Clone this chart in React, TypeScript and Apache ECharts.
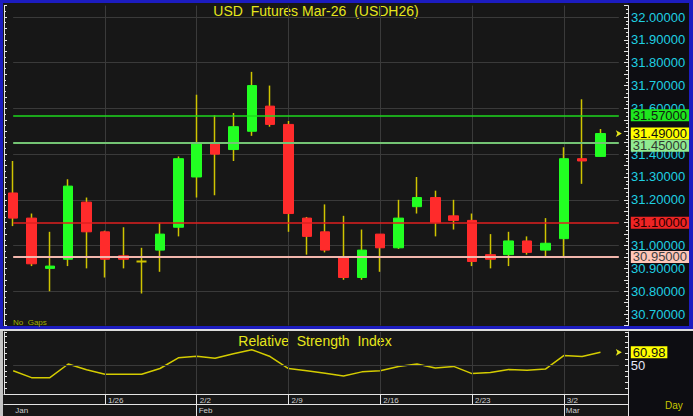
import React, { useEffect, useRef } from 'react';
import * as echarts from 'echarts';

// ---- data ----
const dates = ['1/19','1/20','1/21','1/22','1/23','1/26','1/27','1/28','1/29','1/30','2/2','2/3','2/4','2/5','2/6','2/9','2/10','2/11','2/12','2/13','2/16','2/17','2/18','2/19','2/20','2/23','2/24','2/25','2/26','2/27','3/2','3/3','3/4'];
const opens = [31.23,31.12,30.90,30.94,31.19,31.06,30.955,30.93,30.98,31.08,31.30,31.45,31.42,31.50,31.61,31.53,31.12,31.06,30.95,30.86,31.05,30.99,31.17,31.21,31.13,31.11,30.96,30.96,31.02,30.98,31.03,31.38,31.39];
const closes = [31.12,30.92,30.91,31.26,31.06,30.94,30.94,30.93,31.05,31.38,31.45,31.40,31.52,31.70,31.53,31.14,31.04,30.98,30.86,30.98,30.99,31.12,31.21,31.10,31.11,30.93,30.94,31.02,30.97,31.01,31.38,31.37,31.49];
const lows = [31.085,30.91,30.80,30.91,30.90,30.86,30.90,30.79,30.885,31.04,31.21,31.22,31.37,31.48,31.52,31.06,30.96,30.97,30.85,30.85,30.885,30.985,31.14,31.04,31.07,30.91,30.90,30.91,30.96,30.95,30.95,31.27,31.39];
const highs = [31.37,31.14,31.06,31.29,31.21,31.065,31.08,30.99,31.10,31.39,31.66,31.57,31.58,31.76,31.70,31.545,31.125,31.18,31.13,31.07,31.05,31.20,31.30,31.24,31.20,31.14,31.05,31.06,31.04,31.12,31.43,31.64,31.51];
const rsi = [45.0,39.1,39.1,50.9,45.9,42.0,42.0,42.0,47.0,56.2,57.6,55.8,59.7,63.2,57.3,47.0,45.0,42.9,40.6,44.1,45.0,48.8,50.9,47.4,48.8,42.6,43.5,46.1,45.6,46.5,58.2,57.3,60.98];
const weekLabels = ['1/26','2/2','2/9','2/16','2/23','3/2'];
const monthNames = ['Jan','Feb','Mar'];
const levels = [31.57, 31.45, 31.10, 30.95];
const lastPrice = 31.49;
const lastRsi = 60.98;
const priceGrid = [30.8, 31.0, 31.2, 31.4, 31.6, 31.8, 32.0];
const priceMin = 30.65;
const priceMax = 32.05;
const priceStep = 0.05;
const rsiMin = 25;
const rsiMax = 78.5;
const rsiStep = 5;
const rsiMid = 50;

// ---- styles ----
const FONT = '"Liberation Sans", Arial, sans-serif';
const AX = '#e4e4e4';
const GRIDC = '#3a3a3a';
const UP = '#22ff22';
const DOWN = '#ff2b2b';
const WICK = '#cfc400';
const YEL = '#e6e61c';
const CLEAR = 'rgba(0,0,0,0)';
const levelLine = ['#1ed81e', '#74c474', '#e02020', '#f2b6ac'];
const levelWidth = [1.5, 2, 1.5, 2];
const levelBox = ['#1ee61e', '#90ea90', '#ee2424', '#ffc6b8'];
const levelText = ['#102010', '#303830', '#2a0000', '#404040'];
const levelShift = [0, 3, 0, 0];

const cats = [...dates, ' '];
const lastIdx = cats.length - 1;
const isWeek = (i: number) => weekLabels.includes(cats[i]);
const monthOf = (d: string) => d.split('/')[0];
const monthStart = cats.map((d, i) => i < dates.length && (i === 0 || monthOf(d) !== monthOf(dates[i - 1])));
const boxedValues = [...levels, lastPrice];

function buildOption(): any {
  const axisLineStyle = { color: AX, width: 1 };
  const boxLabel = (text: string, bg: string, fg: string, dy = 0) => ({
    show: true,
    position: 'end',
    distance: 12,
    offset: [0, dy],
    formatter: text,
    backgroundColor: bg,
    color: fg,
    fontSize: 13,
    fontFamily: FONT,
    padding: [1, 2, 0, 2],
    lineHeight: 11,
  });

  const levelLines: any[] = levels.map((v, i) => [
    {
      coord: [0, v],
      lineStyle: { color: levelLine[i], width: levelWidth[i], type: 'solid' },
      label: boxLabel(v.toFixed(5), levelBox[i], levelText[i], levelShift[i]),
    },
    { coord: [lastIdx, v] },
  ]);
  levelLines.push([
    {
      coord: [0, lastPrice],
      lineStyle: { color: CLEAR, width: 1, type: 'solid' },
      label: boxLabel(lastPrice.toFixed(5), '#ffff00', '#101010'),
    },
    { coord: [lastIdx, lastPrice] },
  ]);

  const gridStyle = { color: GRIDC, type: 'solid', width: 1 };
  const noLabel = { show: false };
  const hPair = (v: number) => [
    { coord: [0, v], lineStyle: gridStyle, label: noLabel },
    { coord: [lastIdx, v] },
  ];
  const vPair = (d: string, lo: number, hi: number) => [
    { coord: [d, lo], lineStyle: gridStyle, label: noLabel },
    { coord: [d, hi] },
  ];

  const bodyData = dates.map((_, i) => {
    const o = opens[i];
    const c = closes[i];
    const item: any = { value: [o, c, Math.min(o, c), Math.max(o, c)] };
    if (o === c) {
      item.itemStyle = { color: WICK, color0: WICK, borderColor: WICK, borderColor0: WICK, borderWidth: 2 };
    }
    return item;
  });

  const priceLabel = (v: number) => {
    if (Math.round(v / priceStep) % 2 !== 0) return '';
    if (boxedValues.some((b) => Math.abs(b - v) < 0.015)) return '';
    return v.toFixed(5);
  };

  return {
    animation: false,
    backgroundColor: 'transparent',
    textStyle: { fontFamily: FONT },
    grid: [
      { left: 4, width: 624, top: 5.6, height: 319.9 },
      { left: 4, width: 624, top: 332, height: 62 },
    ],
    xAxis: [
      {
        type: 'category', gridIndex: 0, data: cats, boundaryGap: true,
        axisLine: { show: false }, axisTick: { show: false }, axisLabel: { show: false }, splitLine: { show: false },
      },
      {
        type: 'category', gridIndex: 1, data: cats, boundaryGap: true, position: 'bottom',
        axisLine: { show: true, lineStyle: axisLineStyle },
        axisTick: { show: true, alignWithLabel: true, interval: (i: number) => isWeek(i), length: 10, lineStyle: axisLineStyle },
        axisLabel: {
          show: true, interval: (i: number) => isWeek(i), align: 'left', padding: [0, 0, 0, 3], margin: 2,
          fontSize: 8, color: '#cfcfcf', fontFamily: FONT,
        },
        splitLine: { show: false },
      },
      {
        type: 'category', gridIndex: 1, data: cats, boundaryGap: true, position: 'bottom', offset: 10,
        axisLine: { show: true, lineStyle: axisLineStyle },
        axisTick: { show: true, alignWithLabel: true, interval: (i: number) => i > 0 && monthStart[i], length: 12, lineStyle: axisLineStyle },
        axisLabel: {
          show: true, interval: (i: number) => monthStart[i], align: 'left', padding: [0, 0, 0, 2], margin: 2,
          fontSize: 8, color: '#cfcfcf', fontFamily: FONT,
          formatter: (v: string) => monthNames[Number(monthOf(v)) - 1] || '',
        },
        splitLine: { show: false },
      },
    ],
    yAxis: [
      {
        type: 'value', gridIndex: 0, position: 'right', min: priceMin, max: priceMax, interval: priceStep,
        axisLine: { show: true, lineStyle: axisLineStyle },
        axisTick: { show: true, inside: true, length: 4, lineStyle: axisLineStyle },
        minorTick: { show: true, splitNumber: 3, length: 2, lineStyle: axisLineStyle },
        axisLabel: { show: true, margin: 3, color: '#1fd0e2', fontSize: 13, fontFamily: FONT, formatter: priceLabel },
        splitLine: { show: false },
      },
      {
        type: 'value', gridIndex: 0, position: 'left', min: priceMin, max: priceMax, interval: priceStep,
        axisLine: { show: true, lineStyle: axisLineStyle },
        axisTick: { show: true, inside: true, length: 3, lineStyle: axisLineStyle },
        minorTick: { show: true, splitNumber: 2, length: 2, lineStyle: axisLineStyle },
        axisLabel: { show: false }, splitLine: { show: false },
      },
      {
        type: 'value', gridIndex: 1, position: 'right', min: rsiMin, max: rsiMax, interval: rsiStep,
        axisLine: { show: true, lineStyle: axisLineStyle },
        axisTick: { show: true, inside: true, length: 3, lineStyle: axisLineStyle },
        axisLabel: { show: false },
        splitLine: { show: false },
      },
      {
        type: 'value', gridIndex: 1, position: 'left', min: rsiMin, max: rsiMax, interval: rsiStep,
        axisLine: { show: true, lineStyle: axisLineStyle },
        axisTick: { show: true, inside: true, length: 3, lineStyle: axisLineStyle },
        axisLabel: { show: false }, splitLine: { show: false },
      },
    ],
    graphic: [
      {
        type: 'text', x: 316, y: 11, silent: true,
        style: { text: 'USD  Futures Mar-26  (USDH26)', fill: YEL, font: `14px ${FONT}`, align: 'center', verticalAlign: 'middle' },
      },
      {
        type: 'text', x: 315, y: 341, silent: true,
        style: { text: 'Relative  Strength  Index', fill: YEL, font: `14px ${FONT}`, align: 'center', verticalAlign: 'middle' },
      },
      {
        type: 'text', x: 13, y: 322, silent: true,
        style: { text: 'No  Gaps', fill: '#a2b000', font: `8px ${FONT}`, align: 'left', verticalAlign: 'middle' },
      },
      {
        type: 'text', x: 665, y: 405, silent: true,
        style: { text: 'Day', fill: '#c8c800', font: `10px ${FONT}`, align: 'left', verticalAlign: 'middle' },
      },
    ],
    series: [
      {
        name: 'wick', type: 'candlestick', xAxisIndex: 0, yAxisIndex: 0, z: 3, barWidth: 1, silent: true,
        data: dates.map((_, i) => [opens[i], closes[i], lows[i], highs[i]]),
        itemStyle: { color: WICK, color0: WICK, borderColor: WICK, borderColor0: WICK, borderWidth: 1.5 },
        markLine: {
          silent: true, symbol: 'none', z: 1,
          data: [
            ...priceGrid.map(hPair),
            ...weekLabels.map((d) => vPair(d, priceMin, priceMax)),
          ],
        },
      },
      {
        name: 'USDH26', type: 'candlestick', xAxisIndex: 0, yAxisIndex: 0, z: 4, barWidth: 10, silent: true,
        data: bodyData,
        itemStyle: { color: UP, color0: DOWN, borderColor: UP, borderColor0: DOWN, borderWidth: 1 },
        markLine: { silent: true, symbol: 'none', data: levelLines },
        markPoint: {
          silent: true,
          data: [{ coord: [lastIdx, lastPrice], symbol: 'arrow', symbolSize: [5, 6], symbolRotate: -90, symbolOffset: [3, 0], itemStyle: { color: YEL }, label: { show: false } }],
        },
      },
      {
        name: 'RSI', type: 'line', xAxisIndex: 1, yAxisIndex: 2, data: rsi, z: 3, silent: true,
        symbol: 'none', showSymbol: false,
        lineStyle: { color: '#d4cc00', width: 1.5 },
        markLine: {
          silent: true, symbol: 'none',
          data: [
            ...weekLabels.map((d) => vPair(d, rsiMin, rsiMax)),
            [
              {
                coord: [0, rsiMid], lineStyle: gridStyle,
                label: { show: true, position: 'end', distance: 12, formatter: String(rsiMid), color: '#e6e6f6', fontSize: 13, fontFamily: FONT },
              },
              { coord: [lastIdx, rsiMid] },
            ],
            [
              { coord: [0, lastRsi], lineStyle: { color: CLEAR, width: 1, type: 'solid' }, label: boxLabel(lastRsi.toFixed(2), '#ffff00', '#101010') },
              { coord: [lastIdx, lastRsi] },
            ],
          ],
        },
        markPoint: {
          silent: true,
          data: [{ coord: [lastIdx, lastRsi], symbol: 'arrow', symbolSize: [5, 6], symbolRotate: -90, symbolOffset: [3, 0], itemStyle: { color: YEL }, label: { show: false } }],
        },
      },
    ],
  };
}

export default function App() {
  const ref = useRef<HTMLDivElement>(null);
  useEffect(() => {
    document.body.style.margin = '0';
    if (!ref.current) return;
    const chart = echarts.init(ref.current, undefined, { renderer: 'svg' });
    chart.setOption(buildOption());
    return () => chart.dispose();
  }, []);

  const abs = (s: React.CSSProperties): React.CSSProperties => ({ position: 'absolute', ...s });
  return (
    <div style={{ position: 'fixed', left: 0, top: 0, width: 693, height: 416, background: '#0d0d12', overflow: 'hidden' }}>
      <div style={abs({ left: 3, top: 3, width: 625, height: 323, background: '#171717' })} />
      <div style={abs({ left: 3, top: 331, width: 625, height: 85, background: '#171717' })} />
      <div style={abs({ left: 0, top: 0, width: 693, height: 329, boxSizing: 'border-box', border: '3px solid #1c1cc0', borderRightWidth: 4 })} />
      <div style={abs({ left: 0, top: 328.5, width: 693, height: 2.5, background: '#dcdcdc' })} />
      <div style={abs({ left: 0, top: 331, width: 3, height: 85, background: '#c4c4c4' })} />
      <div style={abs({ left: 628, top: 394, width: 1, height: 22, background: AX })} />
      <div ref={ref} style={abs({ left: 0, top: 0, width: 693, height: 416 })} />
    </div>
  );
}
